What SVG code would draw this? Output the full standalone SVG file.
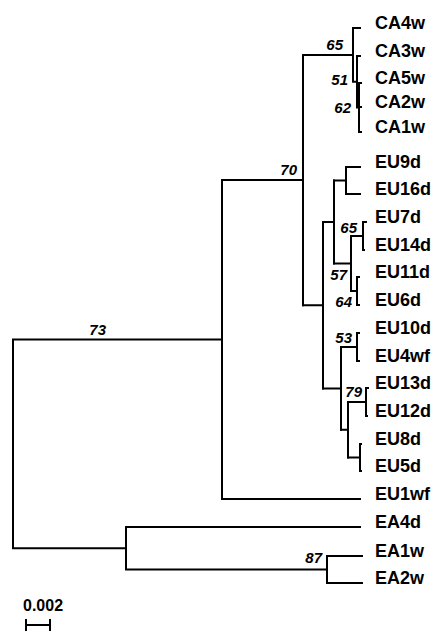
<svg xmlns="http://www.w3.org/2000/svg" width="443" height="631" viewBox="0 0 443 631">
<style>
.br{fill:none;stroke:#000;stroke-width:2;stroke-linecap:square}
.tx{font-family:"Liberation Sans",Arial,sans-serif;font-weight:bold;font-size:18px;fill:#000}
.sc{font-family:"Liberation Sans",Arial,sans-serif;font-weight:bold;font-size:16px;fill:#000}
.bs{font-family:"Liberation Sans",Arial,sans-serif;font-weight:bold;font-style:italic;font-size:15px;fill:#000;text-anchor:end}
</style>
<rect width="443" height="631" fill="#fff"/>
<g id="connectors" class="br">
<path d="M13,339.5V548.25M13,339.5H222M13,548.25H126"/>
<path d="M222,180V499M222,180H303M222,499H360"/>
<path d="M303,55V305.2M303,55H353"/>
<path d="M353,28V81.75M353,28H360M353,81.75H357"/>
<path d="M357,56V107.5M357,56H360M357,107.5H359"/>
<path d="M359,83V132M359,83H361M359,107H361M359,132H361"/>
<path d="M303,305.2H323M323,222V388.4"/>
<path d="M323,222H334M334,180.5V263.5"/>
<path d="M334,180.5H346M346,167V194M346,167H360M346,194H360"/>
<path d="M334,263.5H351M351,236V291"/>
<path d="M351,236H363M363,222V250M363,222H366M363,250H364"/>
<path d="M351,291H357M357,277V305M357,277H359M357,305H359"/>
<path d="M323,388.4H341M341,347V429.75"/>
<path d="M341,347H357M357,333V361M357,333H359M357,361H359"/>
<path d="M341,429.75H348M348,402V457.5"/>
<path d="M348,402H366M366,388V416M366,388H368M366,416H367"/>
<path d="M348,457.5H360M360,444V471M360,444H361M360,471H361"/>
<path d="M126,527V569.5M126,527H360M126,569.5H327"/>
<path d="M327,556V583M327,556H362M327,583H362"/>
<path d="M26,625H50M26,620V630M50,620V630"/>
</g>
<g id="bootstrap">
<text class="bs" x="106" y="335">73</text>
<text class="bs" x="297" y="175">70</text>
<text class="bs" x="343" y="50">65</text>
<text class="bs" x="348" y="85">51</text>
<text class="bs" x="351" y="113">62</text>
<text class="bs" x="357" y="233">65</text>
<text class="bs" x="347" y="280">57</text>
<text class="bs" x="352" y="307">64</text>
<text class="bs" x="352" y="343">53</text>
<text class="bs" x="362" y="397">79</text>
<text class="bs" x="322" y="563">87</text>
</g>
<g id="n-CA4w"><text class="tx" x="375" y="29">CA4w</text></g>
<g id="n-CA3w"><text class="tx" x="375" y="57">CA3w</text></g>
<g id="n-CA5w"><text class="tx" x="375" y="84">CA5w</text></g>
<g id="n-CA2w"><text class="tx" x="375" y="108">CA2w</text></g>
<g id="n-CA1w"><text class="tx" x="375" y="133">CA1w</text></g>
<g id="n-EU9d"><text class="tx" x="375" y="168">EU9d</text></g>
<g id="n-EU16d"><text class="tx" x="375" y="195">EU16d</text></g>
<g id="n-EU7d"><text class="tx" x="375" y="223">EU7d</text></g>
<g id="n-EU14d"><text class="tx" x="375" y="251">EU14d</text></g>
<g id="n-EU11d"><text class="tx" x="375" y="278">EU11d</text></g>
<g id="n-EU6d"><text class="tx" x="375" y="306">EU6d</text></g>
<g id="n-EU10d"><text class="tx" x="375" y="334">EU10d</text></g>
<g id="n-EU4wf"><text class="tx" x="375" y="362">EU4wf</text></g>
<g id="n-EU13d"><text class="tx" x="375" y="389">EU13d</text></g>
<g id="n-EU12d"><text class="tx" x="375" y="417">EU12d</text></g>
<g id="n-EU8d"><text class="tx" x="375" y="445">EU8d</text></g>
<g id="n-EU5d"><text class="tx" x="375" y="472">EU5d</text></g>
<g id="n-EU1wf"><text class="tx" x="375" y="500">EU1wf</text></g>
<g id="n-EA4d"><text class="tx" x="375" y="528">EA4d</text></g>
<g id="n-EA1w"><text class="tx" x="375" y="557">EA1w</text></g>
<g id="n-EA2w"><text class="tx" x="375" y="584">EA2w</text></g>
<g id="scale"><text class="sc" x="23" y="611">0.002</text></g>
</svg>
